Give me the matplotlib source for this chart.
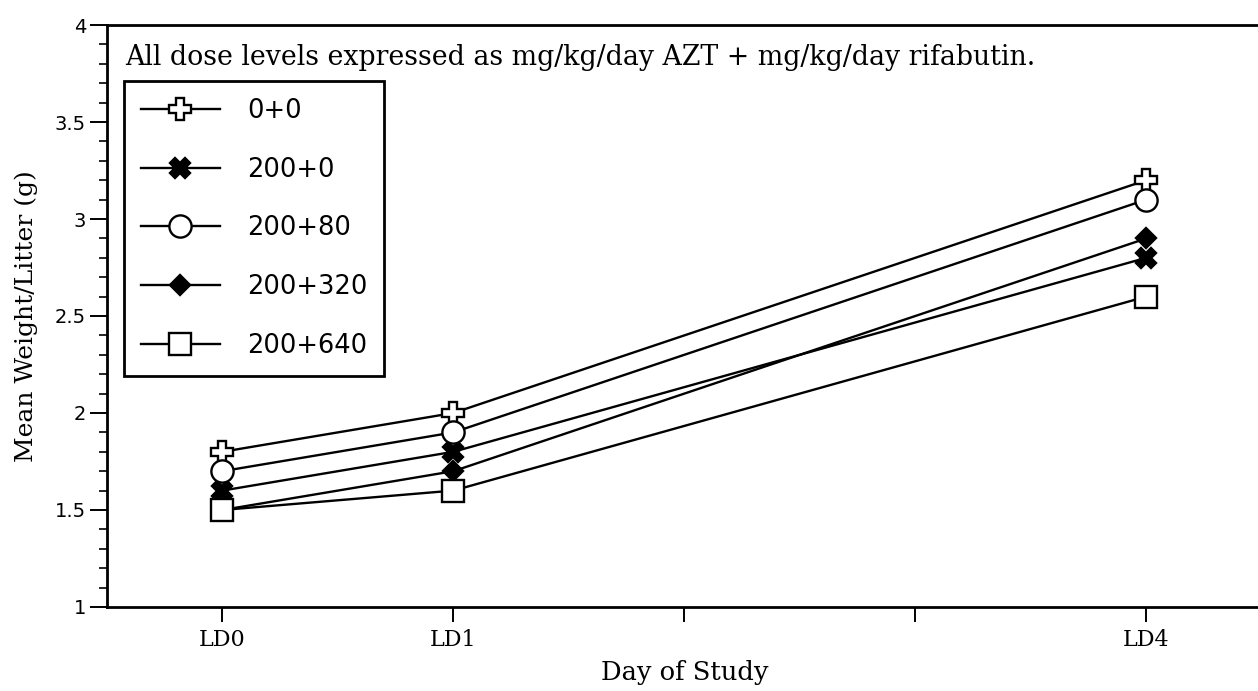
import matplotlib.pyplot as plt
from matplotlib.ticker import MultipleLocator

# mean weight per litter (g)
days = [0, 1, 4]
day_ticks = [0, 1, 2, 3, 4]
day_labels = ['LD0', 'LD1', '', '', 'LD4']

groups = ['0+0', '200+0', '200+80', '200+320', '200+640']
weight_0_0 = [1.8, 2.0, 3.2]
weight_200_0 = [1.6, 1.8, 2.8]
weight_200_80 = [1.7, 1.9, 3.1]
weight_200_320 = [1.5, 1.7, 2.9]
weight_200_640 = [1.5, 1.6, 2.6]

series = [weight_0_0, weight_200_0, weight_200_80, weight_200_320, weight_200_640]
# marker, face colour, size
styles = [
    ('P', 'white', 16),
    ('X', 'black', 14),
    ('o', 'white', 16),
    ('D', 'black', 10),
    ('s', 'white', 16),
]

fig = plt.figure(figsize=(12.58, 6.91), dpi=100)
ax = fig.add_axes([0.085, 0.1216, 0.918, 0.8422])

for label, values, (marker, face, size) in zip(groups, series, styles):
    ax.plot(days, values, color='black', linewidth=1.7, marker=marker,
            markersize=size, markerfacecolor=face, markeredgecolor='black',
            markeredgewidth=1.7, label=label)

ax.set_xlim(-0.5, 4.5)
ax.set_ylim(1, 4)
ax.set_xticks(day_ticks)
ax.set_xticklabels(day_labels, family='DejaVu Serif', fontsize=16)
ax.yaxis.set_major_locator(MultipleLocator(0.5))
ax.yaxis.set_minor_locator(MultipleLocator(0.1))
ax.set_yticks([1, 1.5, 2, 2.5, 3, 3.5, 4])
ax.set_yticklabels(['1', '1.5', '2', '2.5', '3', '3.5', '4'], fontsize=14)
ax.tick_params(axis='y', which='major', direction='out', length=12, width=1.4, pad=3)
ax.tick_params(axis='y', which='minor', direction='out', length=6, width=1.2)
ax.tick_params(axis='x', direction='out', length=11, width=1.4, pad=5)

for side in ['left', 'bottom', 'top']:
    ax.spines[side].set_linewidth(2)
ax.spines['right'].set_visible(False)

ax.set_xlabel('Day of Study', family='DejaVu Serif', fontsize=18.5, labelpad=6)
ax.set_ylabel('Mean Weight/Litter (g)', family='DejaVu Serif', fontsize=18, labelpad=12)

ax.text(0.0156, 0.931, 'All dose levels expressed as mg/kg/day AZT + mg/kg/day rifabutin.',
        transform=ax.transAxes, family='DejaVu Serif', fontsize=19.3, va='baseline')

leg = ax.legend(loc='upper left', bbox_to_anchor=(0.0147, 0.9038), fontsize=18.5,
                frameon=True, fancybox=False, edgecolor='black', framealpha=1,
                labelspacing=1.28, handlelength=3.1, handletextpad=1.05,
                borderpad=0.65, borderaxespad=0)
leg.get_frame().set_linewidth(2)

plt.savefig('out.png', dpi=100)
